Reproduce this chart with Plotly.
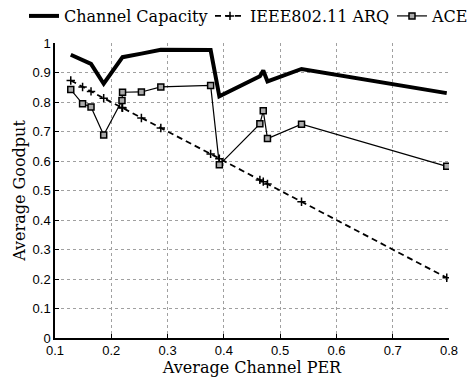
import plotly.graph_objects as go

per = [0.128, 0.149, 0.164, 0.1865, 0.219, 0.220, 0.2535, 0.288, 0.3765, 0.392, 0.464, 0.470, 0.4775, 0.538, 0.796]
capacity = [0.960, 0.943, 0.929, 0.862, 0.950, 0.952, 0.964, 0.977, 0.976, 0.819, 0.887, 0.907, 0.870, 0.912, 0.830]
arq = [0.873, 0.851, 0.836, 0.813, 0.781, 0.780, 0.746, 0.712, 0.624, 0.608, 0.536, 0.530, 0.522, 0.462, 0.204]
ace = [0.842, 0.794, 0.783, 0.688, 0.805, 0.833, 0.834, 0.851, 0.856, 0.587, 0.726, 0.770, 0.676, 0.725, 0.582]

x_ticks = [0.1, 0.2, 0.3, 0.4, 0.5, 0.6, 0.7, 0.8]
y_ticks = [0, 0.1, 0.2, 0.3, 0.4, 0.5, 0.6, 0.7, 0.8, 0.9, 1]

SERIF = "DejaVu Serif"
SANS = "Liberation Sans"

fig = go.Figure()
fig.add_trace(go.Scatter(x=per, y=capacity, mode="lines", name="Channel Capacity",
                         line=dict(color="black", width=4), legendwidth=141))
fig.add_trace(go.Scatter(x=per, y=arq, mode="lines+markers", name="IEEE802.11 ARQ",
                         line=dict(color="black", width=1.8, dash="6px,4px"),
                         marker=dict(symbol="cross-thin-open", size=6, line=dict(color="black", width=1.5)),
                         legendwidth=137))
fig.add_trace(go.Scatter(x=per, y=ace, mode="lines+markers", name="ACE",
                         line=dict(color="black", width=1.2),
                         marker=dict(symbol="square", size=6, color="#aaaaaa", line=dict(color="black", width=1.5)),
                         legendwidth=30))

axis_common = dict(
    showgrid=True, gridcolor="#a0a0a0", griddash="dot", gridwidth=1,
    showline=True, linecolor="black", linewidth=1.5, mirror=False,
    ticks="inside", ticklen=4, tickcolor="black", zeroline=False,
    automargin=False,
    tickfont=dict(family=SANS, size=13, color="black"),
)

fig.update_xaxes(range=[0.1, 0.8], tickvals=x_ticks, ticktext=[str(v) for v in x_ticks],
                 title=dict(text="Average Channel PER", standoff=2,
                            font=dict(family=SERIF, size=16, color="black")),
                 **axis_common)
fig.update_yaxes(range=[0, 1], tickvals=y_ticks, ticktext=[str(v) for v in y_ticks],
                 title=dict(text="Average Goodput", standoff=3,
                            font=dict(family=SERIF, size=16, color="black")),
                 **axis_common)

fig.update_layout(
    width=472, height=379,
    margin=dict(l=55, r=23, t=43, b=41, autoexpand=False),
    plot_bgcolor="white", paper_bgcolor="white",
    legend=dict(orientation="h", x=-0.0787, xanchor="left", y=1.0915, yanchor="middle",
                font=dict(family=SERIF, size=16, color="black"),
                itemwidth=30, tracegroupgap=0, bgcolor="rgba(0,0,0,0)"),
    showlegend=True,
)

fig.write_html("out.html")
